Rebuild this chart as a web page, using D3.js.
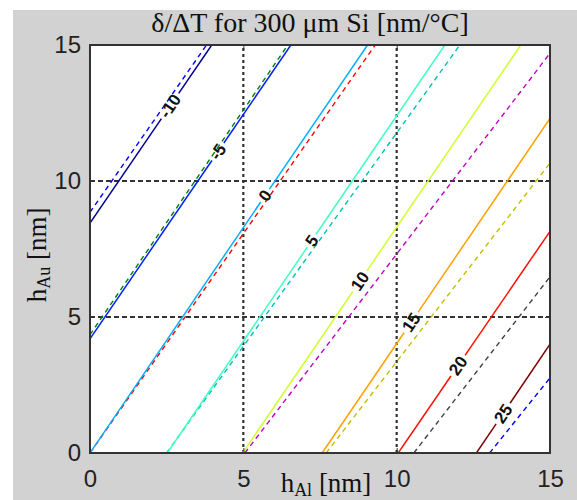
<!DOCTYPE html>
<html lang="en">
<head>
<meta charset="UTF-8" />
<title>delta/DeltaT contours</title>
<script src="https://d3js.org/d3.v7.min.js"></script>
<style>
  body { margin: 0; background: #fff; }
  svg { display: block; }
  .tick text { font-family: 'Liberation Sans', Arial, sans-serif; font-size: 24px; fill: #222; }
  .tick line { stroke: #333; }
  .serif { font-family: 'Liberation Serif', 'Times New Roman', serif; fill: #111; }
  .clabel { font-family: 'Liberation Sans', Arial, sans-serif; font-size: 17px; font-weight: 600; fill: #111; }
</style>
</head>
<body>
<svg width="577" height="500"></svg>
<script>
// contour levels, one solid (exact) and one dashed (approx) line per level
const levels = [-10, -5, 0, 5, 10, 15, 20, 25];
// solid contour endpoints [hAl0, hAu0, hAl1, hAu1]
const solidEnds = [
  [0, 8.45, 3.97, 15],
  [0, 4.2, 6.55, 15],
  [0, 0, 9.05, 15],
  [2.52, 0, 11.57, 15],
  [4.98, 0, 14.05, 15],
  [7.57, 0, 15, 12.3],
  [10.05, 0, 15, 8.15],
  [12.6, 0, 15, 4.0]
];
const solidColors = ["#00008f", "#0020ff", "#00afff", "#40ffbf", "#cfff30", "#ffa000", "#ff1000", "#800000"];
// where each level's label sits (hAl)
const labelX = [2.61, 4.17, 5.71, 7.23, 8.8, 10.47, 12.0, 13.47];
// dashed contour endpoints
const dashedEnds = [
  [0, 8.85, 3.8, 15],
  [0, 4.35, 6.45, 15],
  [0, 0, 9.3, 15],
  [2.5, 0, 12.06, 15],
  [5.05, 0, 15, 14.7],
  [7.7, 0, 15, 10.66],
  [10.56, 0, 15, 6.48],
  [13.03, 0, 15, 2.76]
];
const dashedColors = ["#0000ff", "#008000", "#ff0000", "#00bfbf", "#bf00bf", "#bfbf00", "#404040", "#0000ff"];
const ticks = [0, 5, 10, 15];
const gridAt = [5, 10];

const svg = d3.select("svg");
const W = 577, H = 500;

svg.append("rect").attr("x", 13).attr("y", 10)
  .attr("width", W - 13).attr("height", H - 10).attr("fill", "#d2d2d2");

const x = d3.scaleLinear().domain([0, 15]).range([90, 550]);
const y = d3.scaleLinear().domain([0, 15]).range([453, 45]);

svg.append("rect")
  .attr("x", x(0)).attr("y", y(15))
  .attr("width", x(15) - x(0)).attr("height", y(0) - y(15))
  .attr("fill", "#fff");

svg.append("clipPath").attr("id", "plot")
  .append("rect")
  .attr("x", x(0)).attr("y", y(15))
  .attr("width", x(15) - x(0)).attr("height", y(0) - y(15));

const plot = svg.append("g").attr("clip-path", "url(#plot)");

// grid
gridAt.forEach(v => {
  plot.append("line")
    .attr("x1", x(v)).attr("x2", x(v)).attr("y1", y(0)).attr("y2", y(15))
    .attr("stroke", "#333").attr("stroke-width", 2.2).attr("stroke-dasharray", "3,3");
  plot.append("line")
    .attr("x1", x(0)).attr("x2", x(15)).attr("y1", y(v)).attr("y2", y(v))
    .attr("stroke", "#333").attr("stroke-width", 2).attr("stroke-dasharray", "5,3");
});

// dashed contours
dashedEnds.forEach((e, i) => {
  plot.append("line")
    .attr("x1", x(e[0])).attr("y1", y(e[1]))
    .attr("x2", x(e[2])).attr("y2", y(e[3]))
    .attr("stroke", dashedColors[i]).attr("stroke-width", 1.4)
    .attr("stroke-dasharray", "5,4");
});

// solid contours, broken where the label sits
solidEnds.forEach((e, i) => {
  const p0 = [x(e[0]), y(e[1])], p1 = [x(e[2]), y(e[3])];
  const t = (labelX[i] - e[0]) / (e[2] - e[0]);
  const c = [p0[0] + t * (p1[0] - p0[0]), p0[1] + t * (p1[1] - p0[1])];
  const len = Math.hypot(p1[0] - p0[0], p1[1] - p0[1]);
  const u = [(p1[0] - p0[0]) / len, (p1[1] - p0[1]) / len];
  const ang = Math.atan2(u[1], u[0]) * 180 / Math.PI;

  const txt = svg.append("text")
    .attr("class", "clabel")
    .attr("text-anchor", "middle")
    .attr("dy", "0.35em")
    .attr("transform", `translate(${c[0]},${c[1]}) rotate(${ang})`)
    .text(levels[i]);
  const half = txt.node().getComputedTextLength() / 2 + 3;

  [[p0, [c[0] - half * u[0], c[1] - half * u[1]]],
   [[c[0] + half * u[0], c[1] + half * u[1]], p1]].forEach(s => {
    plot.append("line")
      .attr("x1", s[0][0]).attr("y1", s[0][1])
      .attr("x2", s[1][0]).attr("y2", s[1][1])
      .attr("stroke", solidColors[i]).attr("stroke-width", 1.5);
  });
});

// axes
svg.append("g")
  .attr("transform", `translate(0,${y(0)})`)
  .call(d3.axisBottom(x).tickValues(ticks).tickSizeInner(-5).tickSizeOuter(0).tickPadding(17))
  .call(g => g.select(".domain").remove());
svg.append("g")
  .attr("transform", `translate(${x(0)},0)`)
  .call(d3.axisLeft(y).tickValues(ticks).tickSizeInner(-5).tickSizeOuter(0).tickPadding(9))
  .call(g => g.select(".domain").remove());
svg.append("g")
  .attr("transform", `translate(0,${y(15)})`)
  .call(d3.axisTop(x).tickValues(ticks).tickSizeInner(-5).tickSizeOuter(0).tickFormat(""))
  .call(g => g.select(".domain").remove());
svg.append("g")
  .attr("transform", `translate(${x(15)},0)`)
  .call(d3.axisRight(y).tickValues(ticks).tickSizeInner(-5).tickSizeOuter(0).tickFormat(""))
  .call(g => g.select(".domain").remove());

svg.append("rect")
  .attr("x", x(0)).attr("y", y(15))
  .attr("width", x(15) - x(0)).attr("height", y(0) - y(15))
  .attr("fill", "none").attr("stroke", "#333").attr("stroke-width", 2);

// title and axis labels
svg.append("text")
  .attr("class", "serif")
  .attr("x", 310).attr("y", 32)
  .attr("text-anchor", "middle")
  .attr("font-size", 28)
  .text("δ/ΔT for 300 μm Si [nm/°C]");

const xl = svg.append("text")
  .attr("class", "serif")
  .attr("x", 326).attr("y", 492)
  .attr("text-anchor", "middle")
  .attr("font-size", 27);
xl.append("tspan").text("h");
xl.append("tspan").attr("font-size", 18).attr("dy", 4).text("Al");
xl.append("tspan").attr("dy", -4).text(" [nm]");

const yl = svg.append("text")
  .attr("class", "serif")
  .attr("transform", "translate(46,255) rotate(-90)")
  .attr("text-anchor", "middle")
  .attr("font-size", 27);
yl.append("tspan").text("h");
yl.append("tspan").attr("font-size", 18).attr("dy", 4).text("Au");
yl.append("tspan").attr("dy", -4).text(" [nm]");
</script>
</body>
</html>
